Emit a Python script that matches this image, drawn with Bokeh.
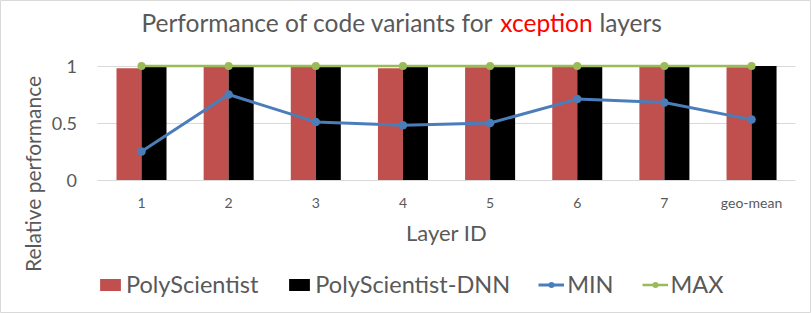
import math
from bokeh.plotting import figure
from bokeh.models import (ColumnDataSource, Range1d, FixedTicker, Label, Legend, LegendItem)
from bokeh.transform import dodge
from bokeh.embed import file_html
from bokeh.resources import INLINE

categories = ["1", "2", "3", "4", "5", "6", "7", "geo-mean"]
polyscientist = [0.98, 1.0, 1.0, 0.98, 0.99, 1.0, 1.0, 0.99]
polyscientist_dnn = [1.0, 1.0, 1.0, 1.0, 1.0, 1.0, 1.0, 1.0]
min_vals = [0.25, 0.75, 0.51, 0.48, 0.50, 0.71, 0.68, 0.53]
max_vals = [1.0, 1.0, 1.0, 1.0, 1.0, 1.0, 1.0, 1.0]
y_ticks = [0, 0.5, 1]

xpos = list(range(1, len(categories) + 1))
src = ColumnDataSource(dict(x=xpos, ps=polyscientist, dnn=polyscientist_dnn,
                            mn=min_vals, mx=max_vals))

FONT = "Lato"
GREY = "#595959"
W, H = 811, 313

p = figure(width=W, height=H, x_range=Range1d(-0.618, 8.688), y_range=Range1d(-1.171, 1.575),
           output_backend="svg", toolbar_location=None,
           min_border_left=0, min_border_right=0, min_border_top=0, min_border_bottom=0)
p.outline_line_color = "#d9d9d9"
p.outline_line_width = 1

r_ps = p.vbar(x=dodge("x", -0.1435), top="ps", width=0.287, source=src,
              fill_color="#c0504d", line_color=None)
r_dnn = p.vbar(x=dodge("x", 0.1435), top="dnn", width=0.287, source=src,
               fill_color="#000000", line_color=None)
r_min_l = p.line(x="x", y="mn", source=src, line_color="#4a7ebb", line_width=3)
r_min_m = p.scatter(x="x", y="mn", source=src, size=8.5, fill_color="#4a7ebb", line_color=None)
r_max_l = p.line(x="x", y="mx", source=src, line_color="#9bbb59", line_width=2.5)
r_max_m = p.scatter(x="x", y="mx", source=src, size=8, fill_color="#9bbb59", line_color=None)

p.xgrid.grid_line_color = None
p.ygrid.grid_line_color = "#d9d9d9"
p.ygrid.ticker = FixedTicker(ticks=y_ticks)
p.ygrid.cross_bounds = (0.5, len(categories) + 0.5)

p.yaxis.fixed_location = 0.5
p.yaxis.ticker = FixedTicker(ticks=y_ticks)
p.yaxis.major_label_overrides = {0: "0", 0.5: "0.5", 1: "1"}
p.yaxis.axis_line_color = None
p.yaxis.major_tick_line_color = None
p.yaxis.minor_tick_line_color = None
p.yaxis.major_label_text_font = FONT
p.yaxis.major_label_text_font_size = "18px"
p.yaxis.major_label_text_color = GREY
p.yaxis.major_label_standoff = 15

p.xaxis.fixed_location = 0
p.xaxis.ticker = FixedTicker(ticks=xpos)
p.xaxis.major_label_overrides = {x: c for x, c in zip(xpos, categories)}
p.xaxis.axis_line_color = None
p.xaxis.major_tick_line_color = None
p.xaxis.minor_tick_line_color = None
p.xaxis.major_label_text_font = FONT
p.xaxis.major_label_text_font_size = "14px"
p.xaxis.major_label_text_color = GREY
p.xaxis.major_label_standoff = 8

# x-axis title (centred on the plot area)
p.add_layout(Label(x=446, y=H - 232, x_units="screen", y_units="screen", text="Layer ID",
                   text_align="center", text_baseline="middle", text_font=FONT,
                   text_font_size="22px", text_color=GREY))

# y-axis title
p.add_layout(Label(x=32, y=H - 173.5, x_units="screen", y_units="screen",
                   text="Relative performance", angle=math.pi / 2, text_align="center",
                   text_baseline="middle", text_font=FONT, text_font_size="21px",
                   text_color=GREY))

# chart title with coloured word
ty = H - 22
TS = "24.5px"
p.add_layout(Label(x=493, y=ty, x_units="screen", y_units="screen",
                   text="Performance of code variants for", text_align="right",
                   text_baseline="middle", text_font=FONT, text_font_size=TS, text_color=GREY))
p.add_layout(Label(x=546, y=ty, x_units="screen", y_units="screen", text="xception",
                   text_align="center", text_baseline="middle", text_font=FONT,
                   text_font_size=TS, text_color="#ff0000"))
p.add_layout(Label(x=599, y=ty, x_units="screen", y_units="screen", text="layers",
                   text_align="left", text_baseline="middle", text_font=FONT,
                   text_font_size=TS, text_color=GREY))

legend = Legend(items=[
    LegendItem(label="PolyScientist", renderers=[r_ps]),
    LegendItem(label="PolyScientist-DNN", renderers=[r_dnn]),
    LegendItem(label="MIN", renderers=[r_min_l, r_min_m]),
    LegendItem(label="MAX", renderers=[r_max_l, r_max_m]),
], orientation="horizontal", location=(97, 15), padding=0, margin=0, spacing=28,
    glyph_width=26, glyph_height=15, label_standoff=3,
    label_text_font=FONT, label_text_font_size="23.5px", label_text_color=GREY,
    border_line_color=None, background_fill_alpha=0)
p.add_layout(legend, "center")

open("out.html", "w").write(file_html(p, INLINE))
